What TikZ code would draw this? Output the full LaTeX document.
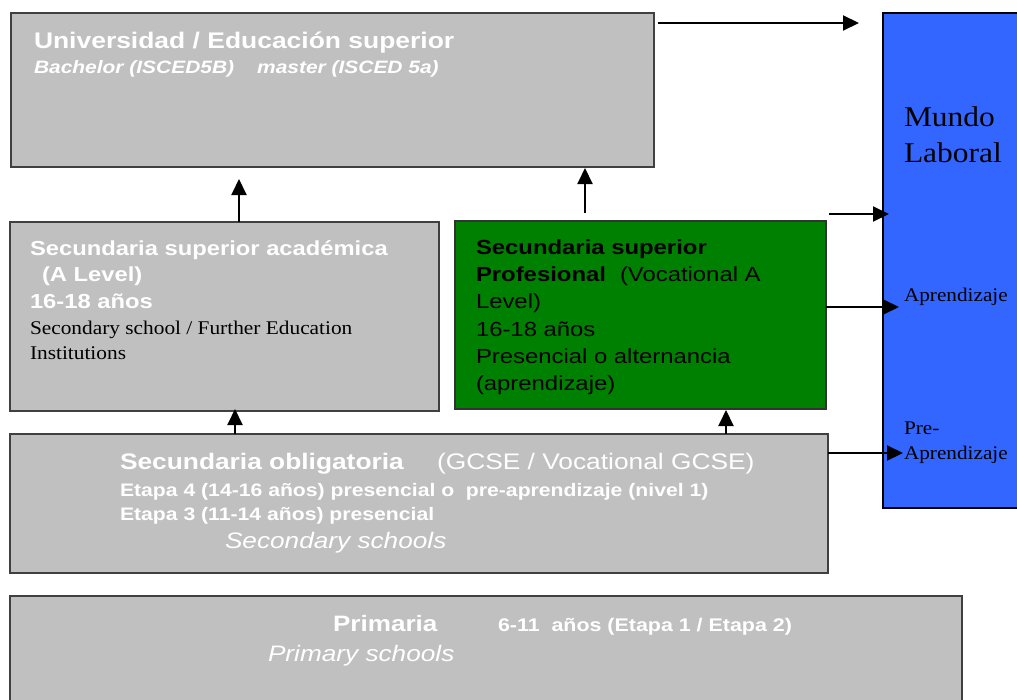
\documentclass[tikz,border=0pt]{standalone}
\usepackage{fontspec}
\setmainfont{Liberation Serif}
\newfontfamily\sfw[FakeStretch=1.17]{Liberation Sans}
\newfontfamily\rmw[FakeStretch=1.1]{Liberation Serif}
\usetikzlibrary{arrows.meta}
\definecolor{boxgray}{HTML}{C0C0C0}
\definecolor{boxedge}{HTML}{404040}
\definecolor{vgreen}{HTML}{008000}
\definecolor{mblue}{HTML}{3366FF}
\newcommand{\setfs}[1]{\fontsize{#1}{#1}\selectfont}
\begin{document}
\begin{tikzpicture}[x=1pt,y=-1pt,
  boxbase/.style={rectangle, anchor=north west, inner sep=0pt, outer sep=0pt},
  graybox/.style={boxbase, draw=boxedge, fill=boxgray, line width=1.4pt},
  greenbox/.style={boxbase, draw=black!80, fill=vgreen, line width=1.2pt},
  bluebox/.style={boxbase, draw=black, fill=mblue, line width=2pt},
  txt/.style={anchor=base west, inner sep=0pt, outer sep=0pt},
  wtxt/.style={txt, text=white},
  btxt/.style={txt, text=black},
  arr/.style={draw=black, line width=2pt, -{Triangle[length=16pt,width=15pt]}},
]
\clip (0,0) rectangle (1017,699);
\fill[white] (0,0) rectangle (1017,699);

% boxes
\node[graybox, minimum width=643pt, minimum height=154pt] (univ) at (11,13) {};
\node[bluebox, minimum width=160pt, minimum height=495pt] (mundo) at (883,13) {};
\node[graybox, minimum width=429pt, minimum height=189pt] (acad) at (10,222) {};
\node[greenbox, minimum width=371pt, minimum height=188pt] (prof) at (455,221) {};
\node[graybox, minimum width=818pt, minimum height=139pt] (oblig) at (10,434) {};
\node[graybox, minimum width=952pt, minimum height=130pt] (prim) at (10,596) {};

% Universidad
\node[wtxt, font={\sfw\bfseries\setfs{22.6}}] (u1) at (34,48) {Universidad / Educación superior};
\node[wtxt, font={\sfw\bfseries\itshape\setfs{17.9}}] (u2) at (34,73) {Bachelor (ISCED5B)\hspace{23pt}master (ISCED 5a)};

% Mundo laboral
\node[btxt, font={\rmw\setfs{28.6}}] (m1) at (904,126) {Mundo};
\node[btxt, font={\rmw\setfs{28.6}}] (m2) at (904,162) {Laboral};
\node[btxt, font={\rmw\setfs{19.3}}] (m3) at (904,301) {Aprendizaje};
\node[btxt, font={\rmw\setfs{19.3}}] (m4) at (904,434) {Pre-};
\node[btxt, font={\rmw\setfs{19.3}}] (m5) at (904,459) {Aprendizaje};

% Secundaria superior academica
\node[wtxt, font={\sfw\bfseries\setfs{20.3}}] (a1) at (30,255) {Secundaria superior académica};
\node[wtxt, font={\sfw\bfseries\setfs{20.3}}] (a2) at (42,281) {(A Level)};
\node[wtxt, font={\sfw\bfseries\setfs{20.3}}] (a3) at (30,308) {16-18 años};
\node[btxt, font={\rmw\setfs{19.4}}] (a4) at (30,334) {Secondary school / Further Education};
\node[btxt, font={\rmw\setfs{19.4}}] (a5) at (30,359) {Institutions};

% Secundaria superior profesional
\node[btxt, font={\sfw\bfseries\setfs{20.4}}] (p1) at (476,254) {Secundaria superior};
\node[btxt, font={\sfw\bfseries\setfs{20.4}}] (p2) at (476,281) {Profesional};
\node[btxt, font={\sfw\setfs{20.4}}] (p2b) at (620,281) {(Vocational A};
\node[btxt, font={\sfw\setfs{20.4}}] (p3) at (476,308) {Level)};
\node[btxt, font={\sfw\setfs{20.4}}] (p4) at (476,336) {16-18 años};
\node[btxt, font={\sfw\setfs{20.4}}] (p5) at (476,363) {Presencial o alternancia};
\node[btxt, font={\sfw\setfs{20.4}}] (p6) at (476,390) {(aprendizaje)};

% Secundaria obligatoria
\node[wtxt, font={\sfw\bfseries\setfs{22.5}}] (o1) at (120,469) {Secundaria obligatoria};
\node[wtxt, font={\sfw\setfs{22.5}}] (o1b) at (437,469) {(GCSE / Vocational GCSE)};
\node[wtxt, font={\sfw\bfseries\setfs{18.1}}] (o2) at (120,496) {Etapa 4 (14-16 años) presencial o~ pre-aprendizaje (nivel 1)};
\node[wtxt, font={\sfw\bfseries\setfs{18.1}}] (o3) at (120,520) {Etapa 3 (11-14 años) presencial};
\node[wtxt, font={\sfw\itshape\setfs{22.4}}] (o4) at (225,548) {Secondary schools};

% Primaria
\node[wtxt, font={\sfw\bfseries\setfs{22.3}}] (r1) at (333,631) {Primaria};
\node[wtxt, font={\sfw\bfseries\setfs{18.3}}] (r1b) at (498,631) {6-11~ años (Etapa 1 / Etapa 2)};
\node[wtxt, font={\sfw\itshape\setfs{22.4}}] (r2) at (268,661) {Primary schools};

% connector end points
\coordinate (topS) at (658,23);
\coordinate (topE) at (859,23);
\coordinate (midS) at (829,214);
\coordinate (midE) at (889,214);
\coordinate (aprE) at (899,307);
\coordinate (preE) at (903,453);
\coordinate (upA) at (239,179);
\coordinate (upBs) at (585,213);
\coordinate (upB) at (585,168);
\coordinate (upC) at (235,409);
\coordinate (upD) at (726,410);

% connectors
\draw[arr] (topS) -- (topE);
\draw[arr] (midS) -- (midE);
\draw[arr] (prof.east |- aprE) -- (aprE);
\draw[arr] (oblig.east |- preE) -- (preE);
\draw[arr] (acad.north -| upA) -- (upA);
\draw[arr] (upBs) -- (upB);
\draw[arr] (oblig.north -| upC) -- (upC);
\draw[arr] (oblig.north -| upD) -- (upD);
\end{tikzpicture}
\end{document}
